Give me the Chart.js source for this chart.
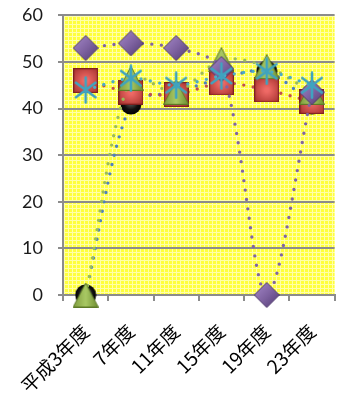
<!DOCTYPE html>
<html>
<head>
<meta charset="utf-8">
<script src="https://cdn.jsdelivr.net/npm/chart.js@4/dist/chart.umd.min.js"></script>
<style>
  html, body { margin: 0; padding: 0; background: #ffffff; }
  #wrap { width: 350px; height: 401px; }
</style>
</head>
<body>
<div id="wrap"><canvas id="c" width="350" height="401"></canvas></div>
<script>
// Survey years
const years = ['平成3年度', '7年度', '11年度', '15年度', '19年度', '23年度'];

// Series values (%)
const seriesCircle  = [0, 41, 43.5, 46.5, 48, 41];
const seriesSquare  = [46, 43.5, 43, 45.5, 44, 41.5];
const seriesTri     = [0, 46.5, 43.5, 50.5, 49, 43.5];
const seriesDiamond = [53, 54, 53, 48.5, 0, 43.5];
const seriesStar    = [44, 46.5, 45, 47, 48, 45];

// Y axis ticks
const yTicks = [0, 10, 20, 30, 40, 50, 60];

// ---- marker images with a bevelled look ----
function makeCanvas(w, h) {
  const c = document.createElement('canvas');
  c.width = w; c.height = h;
  return c;
}
function squareMarker() {
  const s = 25, c = makeCanvas(s, s), g = c.getContext('2d');
  const gr = g.createRadialGradient(s / 2, s / 2, 2, s / 2, s / 2, s * 0.75);
  gr.addColorStop(0, '#ef6a66'); gr.addColorStop(1, '#9c2a27');
  g.fillStyle = gr; g.fillRect(0, 0, s, s);
  g.strokeStyle = '#7d201e'; g.lineWidth = 1.2; g.strokeRect(0.6, 0.6, s - 1.2, s - 1.2);
  return c;
}
function diamondMarker() {
  const w = 26, h = 26, c = makeCanvas(w, h), g = c.getContext('2d');
  const gr = g.createLinearGradient(0, 0, w, h);
  gr.addColorStop(0, '#a68bcb'); gr.addColorStop(0.5, '#8064a2'); gr.addColorStop(1, '#4e3870');
  g.beginPath(); g.moveTo(w / 2, 0.5); g.lineTo(w - 0.5, h / 2); g.lineTo(w / 2, h - 0.5); g.lineTo(0.5, h / 2); g.closePath();
  g.fillStyle = gr; g.fill();
  g.strokeStyle = '#4a356a'; g.lineWidth = 1; g.stroke();
  return c;
}
function triangleMarker() {
  const w = 26, h = 25, c = makeCanvas(w, h), g = c.getContext('2d');
  const gr = g.createLinearGradient(0, 0, w, 0);
  gr.addColorStop(0, '#7d9a3c'); gr.addColorStop(0.5, '#a9c964'); gr.addColorStop(1, '#6b8a2e');
  g.beginPath(); g.moveTo(w / 2, 0.5); g.lineTo(w - 0.5, h - 0.5); g.lineTo(0.5, h - 0.5); g.closePath();
  g.fillStyle = gr; g.fill();
  g.strokeStyle = '#5d7a26'; g.lineWidth = 1; g.stroke();
  return c;
}
function circleMarker() {
  const s = 22, c = makeCanvas(s, s), g = c.getContext('2d');
  const gr = g.createRadialGradient(s * 0.5, s * 0.35, 1, s / 2, s / 2, s / 2);
  gr.addColorStop(0, '#6a6a6a'); gr.addColorStop(0.6, '#111111'); gr.addColorStop(1, '#000000');
  g.beginPath(); g.arc(s / 2, s / 2, s / 2 - 0.5, 0, Math.PI * 2);
  g.fillStyle = gr; g.fill();
  return c;
}
function starMarker() {
  const s = 28, c = makeCanvas(s, s), g = c.getContext('2d');
  const r = s / 2 - 1.5, m = s / 2;
  g.strokeStyle = '#3fa3bf'; g.lineWidth = 2.6; g.lineCap = 'round';
  g.beginPath();
  g.moveTo(m, m - r); g.lineTo(m, m + r);
  const d = r * 0.78;
  g.moveTo(m - d, m - d * 0.75); g.lineTo(m + d, m + d * 0.75);
  g.moveTo(m + d, m - d * 0.75); g.lineTo(m - d, m + d * 0.75);
  g.stroke();
  return c;
}

// ---- plot area fill: fine yellow lattice ----
function latticePattern(ctx) {
  const t = makeCanvas(4, 4), g = t.getContext('2d');
  g.fillStyle = '#ffff3c'; g.fillRect(0, 0, 4, 4);
  g.fillStyle = '#ffffa8'; g.fillRect(0, 0, 4, 1); g.fillRect(0, 0, 1, 4);
  return ctx.createPattern(t, 'repeat');
}

const plotFill = {
  id: 'plotFill',
  beforeDraw(chart) {
    const { ctx, chartArea: a } = chart;
    ctx.save();
    ctx.fillStyle = latticePattern(ctx);
    ctx.fillRect(a.left, a.top, a.right - a.left, a.bottom - a.top);
    ctx.restore();
  }
};

function lineSet(data, color, marker) {
  return {
    data,
    borderColor: color,
    borderWidth: 3.4,
    borderDash: [0, 9.5],
    borderCapStyle: 'round',
    tension: 0.3,
    fill: false,
    pointStyle: marker,
    pointRadius: 12,
    pointHoverRadius: 12,
    clip: false
  };
}

// first dataset is painted last (on top)
const datasets = [
  lineSet(seriesStar, '#4bacc6', starMarker()),
  lineSet(seriesDiamond, '#8064a2', diamondMarker()),
  lineSet(seriesTri, '#9bbb59', triangleMarker()),
  lineSet(seriesSquare, '#c0504d', squareMarker()),
  lineSet(seriesCircle, '#4f81bd', circleMarker())
];

const axisGray = '#8c8c8c';

new Chart(document.getElementById('c'), {
  type: 'line',
  data: { labels: years, datasets },
  plugins: [plotFill],
  options: {
    responsive: false,
    animation: false,
    events: [],
    layout: { padding: { top: 14, right: 8, left: 0, bottom: 0 } },
    plugins: { legend: { display: false }, tooltip: { enabled: false } },
    scales: {
      x: {
        offset: true,
        grid: { display: true, drawOnChartArea: false, drawTicks: true, tickLength: 6, color: axisGray, lineWidth: 2, offset: true },
        border: { display: true, color: axisGray, width: 2 },
        ticks: {
          minRotation: 45, maxRotation: 45, autoSkip: false, padding: 19,
          color: '#000000',
          font: { family: "'Noto Sans CJK JP', sans-serif", size: 19 }
        },
        afterFit(scale) {
          scale.height = 106;
          scale.paddingLeft = 0; scale.paddingRight = 0;
        }
      },
      y: {
        min: 0, max: 60,
        afterBuildTicks(scale) { scale.ticks = yTicks.map(v => ({ value: v })); },
        grid: { color: axisGray, lineWidth: 2, tickLength: 5, drawTicks: true },
        border: { display: true, color: axisGray, width: 2 },
        ticks: {
          padding: 15,
          color: '#1a1a1a',
          font: { family: "Lato, 'Open Sans', sans-serif", size: 18 }
        },
        afterFit(scale) {
          scale.width = 63;
          scale.paddingTop = 0; scale.paddingBottom = 0;
        }
      }
    }
  }
});
</script>
</body>
</html>
